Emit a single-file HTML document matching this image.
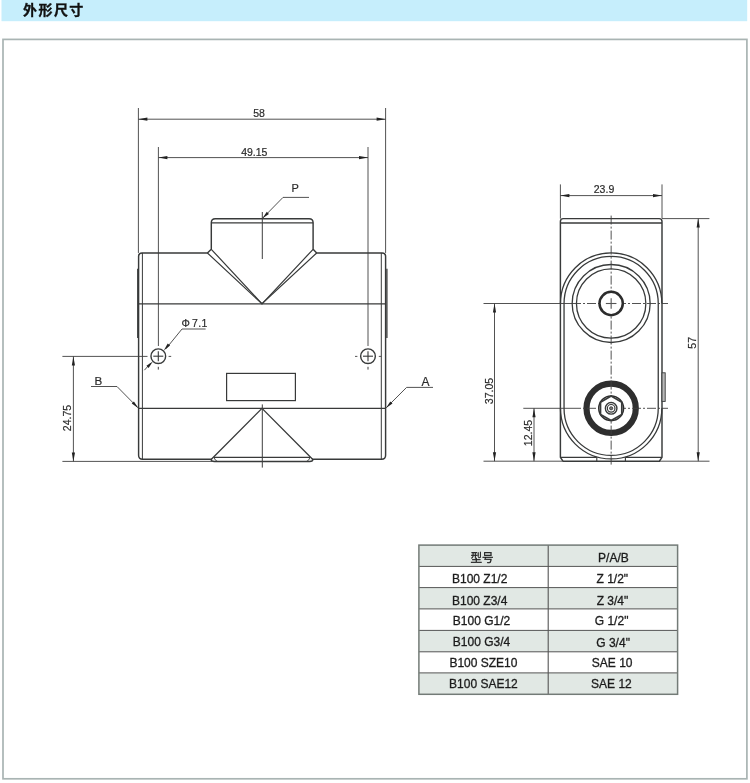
<!DOCTYPE html>
<html lang="zh"><head><meta charset="utf-8"><title>外形尺寸</title>
<style>
html,body{margin:0;padding:0;background:#fff;}
body{width:750px;height:783px;position:relative;overflow:hidden;font-family:"Liberation Sans","Noto Sans CJK SC",sans-serif;}
.hd{position:absolute;left:0;top:0;width:750px;height:22px;}
.hd svg{position:absolute;left:0;top:0;will-change:transform;}
.hd span{will-change:transform;}
.hd span{position:absolute;left:23.4px;top:2.1px;font-size:14px;font-weight:bold;letter-spacing:1.45px;-webkit-text-stroke:0.35px #111;color:#111;line-height:16px;white-space:nowrap;}
svg{position:absolute;left:0;top:0;will-change:transform;}
.hd span{will-change:transform;}
svg text{font-family:"Liberation Sans","Noto Sans CJK SC",sans-serif;}
</style></head><body>
<div class="hd"><svg width="750" height="22"><rect x="1.5" y="0" width="745.7" height="21.2" fill="#c6eefc"/></svg><span>外形尺寸</span></div>
<svg width="750" height="783" viewBox="0 0 750 783">
<rect x="3.0" y="39.4" width="743.9" height="739.4" fill="none" stroke="#a9b4b3" stroke-width="1.7"/>
<line x1="138.4" y1="108" x2="138.4" y2="252.95" stroke="#3e3e3e" stroke-width="0.9" />
<line x1="385.6" y1="108" x2="385.6" y2="252.95" stroke="#3e3e3e" stroke-width="0.9" />
<line x1="138.4" y1="119.2" x2="385.6" y2="119.2" stroke="#3e3e3e" stroke-width="0.9" />
<polygon points="138.40,119.20 147.40,117.60 147.40,120.80" fill="#222"/>
<polygon points="385.60,119.20 376.60,120.80 376.60,117.60" fill="#222"/>
<text x="259" y="116.6" font-size="10.5" text-anchor="middle" fill="#2b2b2b" stroke="#2b2b2b" stroke-width="0.2" >58</text>
<line x1="158.4" y1="147" x2="158.4" y2="346" stroke="#3e3e3e" stroke-width="0.9" />
<line x1="368" y1="147" x2="368" y2="346" stroke="#3e3e3e" stroke-width="0.9" />
<line x1="158.4" y1="157.6" x2="368" y2="157.6" stroke="#3e3e3e" stroke-width="0.9" />
<polygon points="158.40,157.60 167.40,156.00 167.40,159.20" fill="#222"/>
<polygon points="368.00,157.60 359.00,159.20 359.00,156.00" fill="#222"/>
<text x="254.3" y="155.6" font-size="10.5" text-anchor="middle" fill="#2b2b2b" stroke="#2b2b2b" stroke-width="0.2" >49.15</text>
<path d="M215.3,218.7 H309.1 Q313.1,218.7 313.1,222.7 V249.3 L316.70000000000005,252.95 H382.1 Q385.6,252.95 385.6,256.45 V455.2 Q385.6,459.2 381.6,459.2 H312.6 Q313.4,461.4 309.5,461.4 H214.5 Q210.6,461.4 211.4,459.2 H142.6 Q138.6,459.2 138.6,455.2 V256.45 Q138.6,252.95 142.1,252.95 H207.4 L211.3,249.3 V222.7 Q211.3,218.7 215.3,218.7 Z" stroke="#383a3a" stroke-width="1.45" fill="none" />
<line x1="211.3" y1="222.9" x2="313.1" y2="222.9" stroke="#383a3a" stroke-width="1.4" />
<line x1="142.4" y1="252.95" x2="142.4" y2="459.2" stroke="#383a3a" stroke-width="1.0" />
<line x1="381.3" y1="252.95" x2="381.3" y2="459.2" stroke="#383a3a" stroke-width="1.0" />
<line x1="138.6" y1="303.8" x2="385.6" y2="303.8" stroke="#383a3a" stroke-width="1.3" />
<line x1="138.6" y1="408.4" x2="385.6" y2="408.4" stroke="#383a3a" stroke-width="1.3" />
<path d="M207.4,252.95 L262,303.8 L316.70000000000005,252.95" stroke="#383a3a" stroke-width="1.2" fill="none" />
<path d="M211.3,249.3 L262,303.8 L313.1,249.3" stroke="#383a3a" stroke-width="1.2" fill="none" />
<line x1="137.7" y1="268.7" x2="137.7" y2="338" stroke="#383a3a" stroke-width="1.2" />
<line x1="386.9" y1="268.7" x2="386.9" y2="338" stroke="#383a3a" stroke-width="1.3" />
<circle cx="158.3" cy="356.2" r="7.35" stroke="#383a3a" stroke-width="1.4" fill="none"/>
<line x1="153.3" y1="356.2" x2="163.3" y2="356.2" stroke="#383a3a" stroke-width="1.1" />
<line x1="158.3" y1="351.2" x2="158.3" y2="361.2" stroke="#383a3a" stroke-width="1.1" />
<line x1="158.3" y1="366.8" x2="158.3" y2="369.6" stroke="#3e3e3e" stroke-width="1.0" />
<circle cx="368" cy="356.2" r="7.35" stroke="#383a3a" stroke-width="1.4" fill="none"/>
<line x1="363" y1="356.2" x2="373" y2="356.2" stroke="#383a3a" stroke-width="1.1" />
<line x1="368" y1="351.2" x2="368" y2="361.2" stroke="#383a3a" stroke-width="1.1" />
<line x1="368" y1="366.8" x2="368" y2="369.6" stroke="#3e3e3e" stroke-width="1.0" />
<line x1="168.6" y1="356.4" x2="171.2" y2="356.4" stroke="#3e3e3e" stroke-width="0.9" />
<line x1="355" y1="356.4" x2="357.4" y2="356.4" stroke="#3e3e3e" stroke-width="0.9" />
<line x1="378.8" y1="356.4" x2="381.2" y2="356.4" stroke="#3e3e3e" stroke-width="0.9" />
<rect x="226.6" y="373.4" width="68.8" height="27.2" fill="none" stroke="#383a3a" stroke-width="1.2"/>
<path d="M211.4,459.2 L262,408.4 L312.6,459.2" stroke="#383a3a" stroke-width="1.3" fill="none" />
<path d="M214,457.4 H310" stroke="#383a3a" stroke-width="1.1" fill="none" />
<path d="M214,457.4 Q215,460.8 217.5,461.4 M310,457.4 Q309,460.8 306.5,461.4" stroke="#383a3a" stroke-width="0.9" fill="none" />
<line x1="262.3" y1="212" x2="262.3" y2="259" stroke="#3e3e3e" stroke-width="1.0" />
<line x1="262.3" y1="404.4" x2="262.3" y2="467.6" stroke="#3e3e3e" stroke-width="1.0" />
<path d="M309,197.4 H283 L262.6,218.2" stroke="#3e3e3e" stroke-width="0.9" fill="none" />
<polygon points="262.60,218.20 266.78,211.80 268.92,213.90" fill="#222"/>
<text x="295.2" y="191.6" font-size="11" text-anchor="middle" fill="#2b2b2b" stroke="#2b2b2b" stroke-width="0.2" >P</text>
<path d="M205.6,329 H182 L165.8,348.9" stroke="#3e3e3e" stroke-width="0.9" fill="none" />
<polygon points="163.80,350.60 167.69,343.44 170.08,345.41" fill="#222"/>
<path d="M144.4,370.2 L150.8,363" stroke="#3e3e3e" stroke-width="0.9" fill="none" />
<polygon points="152.80,361.60 148.63,368.02 146.42,365.84" fill="#222"/>
<text x="194.7" y="326.7" font-size="10.5" text-anchor="middle" fill="#2b2b2b" stroke="#2b2b2b" stroke-width="0.2" letter-spacing="0.45">Φ<tspan dx="1.6">7.1</tspan></text>
<path d="M91,386.5 H117 L137.8,407.6" stroke="#3e3e3e" stroke-width="0.9" fill="none" />
<polygon points="138.40,408.20 131.77,403.48 133.93,401.40" fill="#222"/>
<text x="98.4" y="384.7" font-size="11.6" text-anchor="middle" fill="#2b2b2b" stroke="#2b2b2b" stroke-width="0.2" >B</text>
<path d="M433,387.4 H406.6 L386.4,407.6" stroke="#3e3e3e" stroke-width="0.9" fill="none" />
<polygon points="385.80,408.20 390.33,401.44 392.47,403.54" fill="#222"/>
<text x="425.4" y="385.8" font-size="12" text-anchor="middle" fill="#2b2b2b" stroke="#2b2b2b" stroke-width="0.2" >A</text>
<line x1="62.4" y1="356.4" x2="147.5" y2="356.4" stroke="#3e3e3e" stroke-width="0.9" />
<line x1="62.4" y1="461.4" x2="212" y2="461.4" stroke="#3e3e3e" stroke-width="0.9" />
<line x1="73.4" y1="356.4" x2="73.4" y2="461.4" stroke="#3e3e3e" stroke-width="0.9" />
<polygon points="73.40,356.40 75.00,365.40 71.80,365.40" fill="#222"/>
<polygon points="73.40,461.40 71.80,452.40 75.00,452.40" fill="#222"/>
<text x="70.6" y="418" font-size="10.5" text-anchor="middle" fill="#2b2b2b" stroke="#2b2b2b" stroke-width="0.2" transform="rotate(-90 70.6 418)" >24.75</text>
<line x1="560.4" y1="184.4" x2="560.4" y2="218.6" stroke="#3e3e3e" stroke-width="0.9" />
<line x1="662.0" y1="184.4" x2="662.0" y2="218.6" stroke="#3e3e3e" stroke-width="0.9" />
<line x1="560.4" y1="195.6" x2="662.0" y2="195.6" stroke="#3e3e3e" stroke-width="0.9" />
<polygon points="560.40,195.60 569.40,194.00 569.40,197.20" fill="#222"/>
<polygon points="662.00,195.60 653.00,197.20 653.00,194.00" fill="#222"/>
<text x="604" y="193.2" font-size="10.5" text-anchor="middle" fill="#2b2b2b" stroke="#2b2b2b" stroke-width="0.2" >23.9</text>
<path d="M563.1999999999999,218.6 H659.2 Q662.0,218.6 662.0,221.4 V457.3 L659.4,461.2 H563.0 L560.4,457.3 V221.4 Q560.4,218.6 563.1999999999999,218.6 Z" stroke="#383a3a" stroke-width="1.45" fill="none" />
<line x1="560.4" y1="222.9" x2="662.0" y2="222.9" stroke="#383a3a" stroke-width="1.5" />
<line x1="560.4" y1="457.3" x2="596.8" y2="457.3" stroke="#383a3a" stroke-width="1.3" />
<line x1="625.4" y1="457.3" x2="662.0" y2="457.3" stroke="#383a3a" stroke-width="1.3" />
<path d="M596.8,457.3 V461.2 M625.4,457.3 V461.2" stroke="#383a3a" stroke-width="1.1" fill="none" />
<path d="M560.4499999999999,303.5 A50.7,50.7 0 0 1 661.85,303.5" stroke="#383a3a" stroke-width="1.3" fill="none" />
<path d="M560.4499999999999,408.3 A50.7,50.7 0 0 0 661.85,408.3" stroke="#383a3a" stroke-width="1.3" fill="none" />
<path d="M564.05,408.3 V303.5 A47.1,47.1 0 0 1 658.25,303.5 V408.3 A47.1,47.1 0 0 1 564.05,408.3 Z" stroke="#383a3a" stroke-width="1.3" fill="none" />
<circle cx="611.15" cy="303.5" r="39" stroke="#383a3a" stroke-width="1.3" fill="none"/>
<circle cx="611.15" cy="303.5" r="34.7" stroke="#383a3a" stroke-width="1.3" fill="none"/>
<circle cx="611.15" cy="408.3" r="24.65" stroke="#2e2e2e" stroke-width="6.2" fill="none"/>
<rect x="662.0" y="372.8" width="3.2" height="28.6" fill="#b8b8b8" stroke="#383a3a" stroke-width="0.9"/>
<line x1="611.15" y1="215.6" x2="611.15" y2="466" stroke="#3e3e3e" stroke-width="0.9" stroke-dasharray="9 2 2 2"/>
<line x1="483.5" y1="303.5" x2="572" y2="303.5" stroke="#3e3e3e" stroke-width="0.9" />
<line x1="572" y1="303.5" x2="668" y2="303.5" stroke="#3e3e3e" stroke-width="0.9" stroke-dasharray="9 2 2 2"/>
<line x1="523.3" y1="408.3" x2="572" y2="408.3" stroke="#3e3e3e" stroke-width="0.9" />
<line x1="572" y1="408.3" x2="668" y2="408.3" stroke="#3e3e3e" stroke-width="0.9" stroke-dasharray="9 2 2 2"/>
<circle cx="611.15" cy="303.5" r="11.65" stroke="#2c2c2c" stroke-width="2.5" fill="#fff"/>
<line x1="605.85" y1="303.5" x2="616.4499999999999" y2="303.5" stroke="#555" stroke-width="1.1" />
<line x1="611.15" y1="298.2" x2="611.15" y2="308.8" stroke="#555" stroke-width="1.1" />
<circle cx="611.15" cy="408.3" r="12.4" stroke="#2c2c2c" stroke-width="1.5" fill="#fff"/>
<polygon points="611.15,396.00 621.80,402.15 621.80,414.45 611.15,420.60 600.50,414.45 600.50,402.15" fill="none" stroke="#383a3a" stroke-width="1.7"/>
<circle cx="611.15" cy="408.3" r="5.8" stroke="#383a3a" stroke-width="1.4" fill="none"/>
<circle cx="611.15" cy="408.3" r="3.8" stroke="#383a3a" stroke-width="1.2" fill="none"/>
<circle cx="611.15" cy="408.3" r="1.6" stroke="#333" stroke-width="0.8" fill="#777"/>
<line x1="483.5" y1="461.2" x2="562.4" y2="461.2" stroke="#3e3e3e" stroke-width="0.9" />
<line x1="494.5" y1="303.5" x2="494.5" y2="461.2" stroke="#3e3e3e" stroke-width="0.9" />
<polygon points="494.50,303.50 496.10,312.50 492.90,312.50" fill="#222"/>
<polygon points="494.50,461.20 492.90,452.20 496.10,452.20" fill="#222"/>
<text x="492.6" y="391" font-size="10.5" text-anchor="middle" fill="#2b2b2b" stroke="#2b2b2b" stroke-width="0.2" transform="rotate(-90 492.6 391)" >37.05</text>
<line x1="534" y1="408.3" x2="534" y2="461.2" stroke="#3e3e3e" stroke-width="0.9" />
<polygon points="534.00,408.30 535.60,417.30 532.40,417.30" fill="#222"/>
<polygon points="534.00,461.20 532.40,452.20 535.60,452.20" fill="#222"/>
<text x="532.2" y="433" font-size="10.5" text-anchor="middle" fill="#2b2b2b" stroke="#2b2b2b" stroke-width="0.2" transform="rotate(-90 532.2 433)" >12.45</text>
<line x1="662.0" y1="218.6" x2="709.4" y2="218.6" stroke="#3e3e3e" stroke-width="0.9" />
<line x1="660.0" y1="461.2" x2="709.5" y2="461.2" stroke="#3e3e3e" stroke-width="0.9" />
<line x1="698.2" y1="218.6" x2="698.2" y2="461.2" stroke="#3e3e3e" stroke-width="0.9" />
<polygon points="698.20,218.60 699.80,227.60 696.60,227.60" fill="#222"/>
<polygon points="698.20,461.20 696.60,452.20 699.80,452.20" fill="#222"/>
<text x="696.2" y="342.8" font-size="10.5" text-anchor="middle" fill="#2b2b2b" stroke="#2b2b2b" stroke-width="0.2" transform="rotate(-90 696.2 342.8)" >57</text>
<rect x="418.9" y="545.1" width="258.70000000000005" height="21.299999999999955" fill="#e1e8e4"/>
<rect x="418.9" y="587.6" width="258.70000000000005" height="21.299999999999955" fill="#e1e8e4"/>
<rect x="418.9" y="630.4" width="258.70000000000005" height="21.399999999999977" fill="#e1e8e4"/>
<rect x="418.9" y="672.9" width="258.70000000000005" height="21.399999999999977" fill="#e1e8e4"/>
<line x1="418.9" y1="566.4" x2="677.6" y2="566.4" stroke="#555" stroke-width="1.0" />
<line x1="418.9" y1="587.6" x2="677.6" y2="587.6" stroke="#555" stroke-width="1.0" />
<line x1="418.9" y1="608.9" x2="677.6" y2="608.9" stroke="#555" stroke-width="1.0" />
<line x1="418.9" y1="630.4" x2="677.6" y2="630.4" stroke="#555" stroke-width="1.0" />
<line x1="418.9" y1="651.8" x2="677.6" y2="651.8" stroke="#555" stroke-width="1.0" />
<line x1="418.9" y1="672.9" x2="677.6" y2="672.9" stroke="#555" stroke-width="1.0" />
<line x1="548.2" y1="545.1" x2="548.2" y2="694.3" stroke="#555" stroke-width="1.1" />
<rect x="418.9" y="545.1" width="258.70000000000005" height="149.19999999999993" fill="none" stroke="#737b77" stroke-width="1.5"/>
<text x="482" y="561.6999999999999" font-size="11.6" text-anchor="middle" fill="#1c1c1c" stroke="#1c1c1c" stroke-width="0.3" >型号</text>
<text x="479.7" y="582.8" font-size="12" text-anchor="middle" fill="#1c1c1c" stroke="#1c1c1c" stroke-width="0.3" >B100 Z1/2</text>
<text x="479.7" y="604.5" font-size="12" text-anchor="middle" fill="#1c1c1c" stroke="#1c1c1c" stroke-width="0.3" >B100 Z3/4</text>
<text x="481.5" y="624.8" font-size="12" text-anchor="middle" fill="#1c1c1c" stroke="#1c1c1c" stroke-width="0.3" >B100 G1/2</text>
<text x="481.5" y="646.1999999999999" font-size="12" text-anchor="middle" fill="#1c1c1c" stroke="#1c1c1c" stroke-width="0.3" >B100 G3/4</text>
<text x="483.4" y="667.4" font-size="12" text-anchor="middle" fill="#1c1c1c" stroke="#1c1c1c" stroke-width="0.3" >B100 SZE10</text>
<text x="483.4" y="687.8" font-size="12" text-anchor="middle" fill="#1c1c1c" stroke="#1c1c1c" stroke-width="0.3" >B100 SAE12</text>
<text x="613.4" y="561.9" font-size="12" text-anchor="middle" fill="#1c1c1c" stroke="#1c1c1c" stroke-width="0.3" >P/A/B</text>
<text x="612.3" y="583.1999999999999" font-size="12" text-anchor="middle" fill="#1c1c1c" stroke="#1c1c1c" stroke-width="0.3" >Z 1/2&quot;</text>
<text x="612.5" y="604.9" font-size="12" text-anchor="middle" fill="#1c1c1c" stroke="#1c1c1c" stroke-width="0.3" >Z 3/4&quot;</text>
<text x="611.6" y="624.8" font-size="12" text-anchor="middle" fill="#1c1c1c" stroke="#1c1c1c" stroke-width="0.3" >G 1/2&quot;</text>
<text x="613.1" y="646.5" font-size="12" text-anchor="middle" fill="#1c1c1c" stroke="#1c1c1c" stroke-width="0.3" >G 3/4&quot;</text>
<text x="612.2" y="667.4" font-size="12" text-anchor="middle" fill="#1c1c1c" stroke="#1c1c1c" stroke-width="0.3" >SAE 10</text>
<text x="611.4" y="687.8" font-size="12" text-anchor="middle" fill="#1c1c1c" stroke="#1c1c1c" stroke-width="0.3" >SAE 12</text>
</svg>
</body></html>
